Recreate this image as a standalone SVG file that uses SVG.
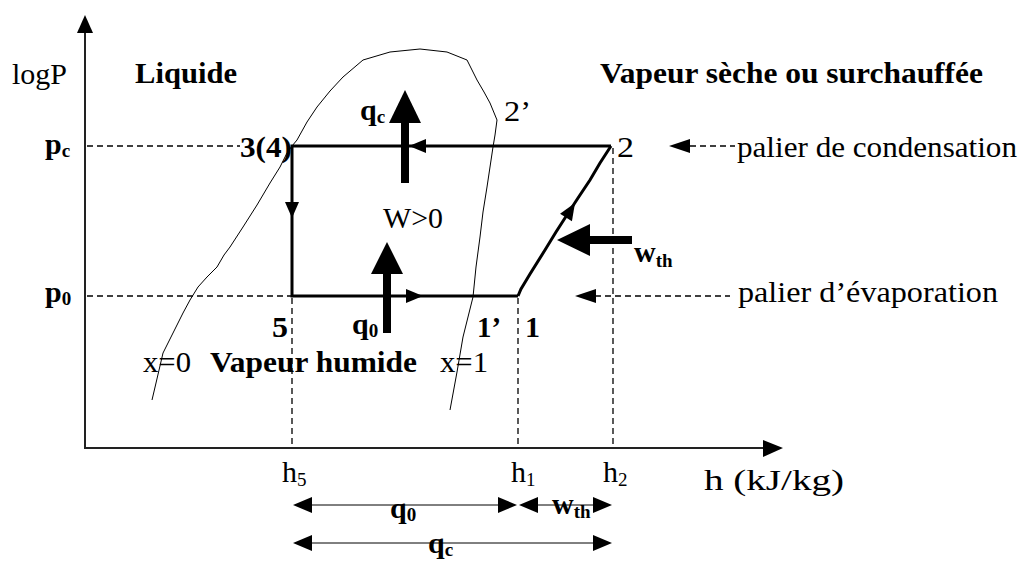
<svg xmlns="http://www.w3.org/2000/svg" width="1023" height="561" viewBox="0 0 1023 561">
<style>
.t{font-family:"Liberation Serif","Times New Roman",serif;font-size:30px;fill:#000}
.b{font-weight:bold}
.s{font-size:19px}
.dash{stroke:#000;stroke-width:1.3;stroke-dasharray:6 4;fill:none}
.cyc{stroke:#000;stroke-width:3;fill:none}
.thin{stroke:#000;stroke-width:1;fill:none}
.ax{stroke:#222;stroke-width:2;fill:none}
.fill{fill:#000;stroke:none}
</style>
<rect width="1023" height="561" fill="#fff"/>

<g id="axes">
  <line class="ax" x1="85" y1="448" x2="85" y2="30"/>
  <polygon class="fill" points="85,15 77,33 93,33"/>
  <line class="ax" x1="84" y1="448" x2="766" y2="448"/>
  <polygon class="fill" points="783,448 763,440 763,457"/>
</g>

<g id="saturation-curve">
  <polyline class="thin" points="152,400 156,383 163,353 172,335 183,313 190,300 198,287 207,277 217,267 224,255 230,247 243,227 257,205 270,183 280,167 287,153 292,146 297,140 307,122 317,107 330,91 343,77 363,60 390,52 420,49 447,52 467,60 477,80 484,92 490,103 497,120 495,135 493,147 490,167 487,187 483,212 480,237 476,267 473,297 468,317 463,337 457,372 450,410"/>
</g>

<g id="connectors">
  <line class="dash" x1="87" y1="146" x2="240" y2="146"/>
  <line class="dash" x1="87" y1="296" x2="292" y2="296"/>
  <line class="dash" x1="292" y1="298" x2="292" y2="447"/>
  <line class="dash" x1="518" y1="298" x2="518" y2="447"/>
  <line class="dash" x1="613" y1="148" x2="613" y2="447"/>
  <line class="dash" x1="690" y1="146" x2="735" y2="146"/>
  <polygon class="fill" points="669,146 690,139 690,153"/>
  <line class="dash" x1="595" y1="296" x2="730" y2="296"/>
  <polygon class="fill" points="575,296 596,289 596,303"/>
  <polyline class="cyc" points="611,146 292,146 292,296 518,296"/>
  <polyline class="cyc" stroke-width="2.5" points="518,296 521,289 524,284 530,274 545,250 556,232 565,218 578,198 590,180 600,163 611,146"/>
  <polygon class="fill" points="409,146 426,139 426,153"/>
  <polygon class="fill" points="292,218 285,202 299,202"/>
  <polygon class="fill" points="423,296 406,289 406,303"/>
  <polygon class="fill" points="0,0 -17,-7 -17,7" transform="translate(575,203) rotate(-58)"/>
  <rect class="fill" x="401" y="120" width="8" height="63"/>
  <polygon class="fill" points="405,90 389,123 421,123"/>
  <rect class="fill" x="383" y="272" width="8" height="61"/>
  <polygon class="fill" points="387,242 371,274 403,274"/>
  <rect class="fill" x="588" y="236" width="44" height="8"/>
  <polygon class="fill" points="557,240 590,224 590,256"/>
  <line class="thin" x1="300" y1="505" x2="510" y2="505"/>
  <polygon class="fill" points="293,505 312,497 312,513"/>
  <polygon class="fill" points="517,505 498,497 498,513"/>
  <line class="thin" x1="525" y1="505" x2="605" y2="505"/>
  <polygon class="fill" points="519,505 538,497 538,513"/>
  <polygon class="fill" points="612,505 593,497 593,513"/>
  <line class="thin" x1="300" y1="543" x2="605" y2="543"/>
  <polygon class="fill" points="293,543 312,535 312,551"/>
  <polygon class="fill" points="612,543 593,535 593,551"/>
</g>

<g id="labels">
  <text class="t" x="12" y="84" textLength="55" lengthAdjust="spacingAndGlyphs">logP</text>
  <text class="t b" x="135" y="83" textLength="102" lengthAdjust="spacingAndGlyphs">Liquide</text>
  <text class="t b" x="600" y="83" textLength="383" lengthAdjust="spacingAndGlyphs">Vapeur sèche ou surchauffée</text>
  <text class="t b" x="45" y="154">p<tspan class="s" dy="3">c</tspan></text>
  <text class="t b" x="45" y="302">p<tspan class="s" dy="3">0</tspan></text>
  <text class="t b" x="240" y="157" textLength="52" lengthAdjust="spacingAndGlyphs">3(4)</text>
  <text class="t" x="617" y="157" textLength="17" lengthAdjust="spacingAndGlyphs">2</text>
  <text class="t" x="504" y="121" textLength="27" lengthAdjust="spacingAndGlyphs">2’</text>
  <text class="t" x="383" y="228" textLength="60" lengthAdjust="spacingAndGlyphs">W&gt;0</text>
  <text class="t b" x="360" y="120">q<tspan class="s" dy="3">c</tspan></text>
  <text class="t b" x="352" y="334">q<tspan class="s" dy="3">0</tspan></text>
  <text class="t b" x="272" y="337" textLength="16" lengthAdjust="spacingAndGlyphs">5</text>
  <text class="t b" x="477" y="337" textLength="24" lengthAdjust="spacingAndGlyphs">1’</text>
  <text class="t b" x="525" y="337" textLength="15" lengthAdjust="spacingAndGlyphs">1</text>
  <text class="t" x="143" y="372" textLength="48" lengthAdjust="spacingAndGlyphs">x=0</text>
  <text class="t b" x="210" y="372" textLength="207" lengthAdjust="spacingAndGlyphs">Vapeur humide</text>
  <text class="t" x="440" y="372" textLength="48" lengthAdjust="spacingAndGlyphs">x=1</text>
  <text class="t b" x="634" y="262">w<tspan class="s" dy="5">th</tspan></text>
  <text class="t" x="737" y="157" textLength="280" lengthAdjust="spacingAndGlyphs">palier de condensation</text>
  <text class="t" x="738" y="302" textLength="260" lengthAdjust="spacingAndGlyphs">palier d’évaporation</text>
  <text class="t" x="282" y="482">h<tspan class="s" dy="4">5</tspan></text>
  <text class="t" x="511" y="482">h<tspan class="s" dy="4">1</tspan></text>
  <text class="t" x="603" y="482">h<tspan class="s" dy="4">2</tspan></text>
  <text class="t" x="704" y="490" textLength="140" lengthAdjust="spacingAndGlyphs">h (kJ/kg)</text>
  <text class="t b" x="390" y="518">q<tspan class="s" dy="3">0</tspan></text>
  <text class="t b" x="552" y="514">w<tspan class="s" dy="4">th</tspan></text>
  <text class="t b" x="428" y="553">q<tspan class="s" dy="3">c</tspan></text>
</g>
</svg>
